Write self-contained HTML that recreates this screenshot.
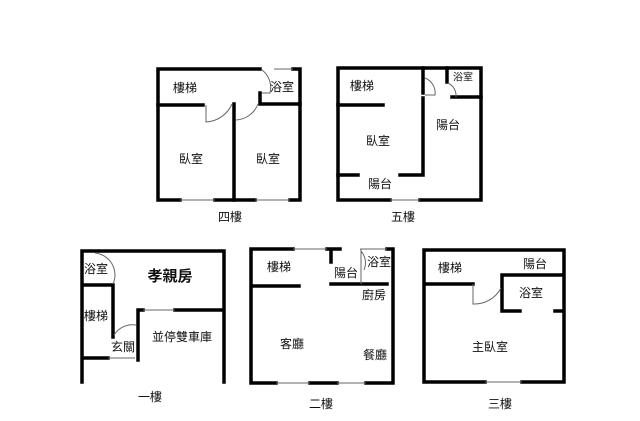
<!DOCTYPE html>
<html><head><meta charset="utf-8"><style>
body{margin:0;background:#fff;width:640px;height:421px;overflow:hidden}
svg{display:block}
text{font-family:"Liberation Sans","Noto Sans CJK TC",sans-serif;font-size:12px;fill:#111;text-anchor:middle;dominant-baseline:middle}
.w{stroke:#000;stroke-width:3.5;fill:none;stroke-linecap:square}
.t{stroke:#666;stroke-width:1;fill:none}
.d{stroke:#666;stroke-width:1;fill:none}
</style></head><body>
<svg width="640" height="421" viewBox="0 0 640 421">
<!-- Floor 4 -->
<path class="w" d="M260 69 H158 V200 H180 M215 200 H255 M290 200 H300 V69 H293"/>
<path class="t" d="M274 69 H293 M180 200 H215 M255 200 H290"/>
<path class="w" d="M158 105 H203 M234 104 V200 M260 93 V104 H300"/>
<path class="d" d="M206 105 V122 A30 30 0 0 0 232 104 M236 120 A25 25 0 0 0 258 104 M262 70 A22 22 0 0 1 270 93 H262"/>
<text x="185" y="89">樓梯</text><text x="282" y="88">浴室</text>
<text x="191" y="160">臥室</text><text x="268" y="160">臥室</text>
<text x="230" y="218">四樓</text>
<!-- Floor 5 -->
<path class="w" d="M338 68 H481 V200 H420 M390 200 H338 V68"/>
<path class="t" d="M390 200 H420"/>
<path class="w" d="M423 68 V93 M423 98 V175 H400 M338 175 H358 M338 105 H383 M447 68 V82 M452 97 H481"/>
<path class="d" d="M425 78 A16 16 0 0 1 435 95 H425 M448 83 A14 14 0 0 1 456 97"/>
<text x="362" y="87">樓梯</text><text x="463" y="78" style="font-size:10px">浴室</text>
<text x="448" y="126">陽台</text><text x="378" y="142">臥室</text><text x="380" y="185">陽台</text>
<text x="403" y="218">五樓</text>
<!-- Floor 1 -->
<path class="w" d="M82 382 V251 H224 V382 M82 285 H113 V337 M138 310 H143 M175 310 H224 M138 310 V360 M82 358 H108"/>
<path class="t" d="M143 310 H175 M108 358 H135 M95 253 A22 22 0 0 1 113 284"/>
<path class="d" d="M114 335 A22 22 0 0 1 136 325"/>
<text x="96" y="270">浴室</text><text x="170" y="277" style="font-size:15px;font-weight:bold">孝親房</text>
<text x="96" y="317">樓梯</text><text x="123" y="348">玄關</text>
<text x="182" y="338">並停雙車庫</text><text x="150" y="398">一樓</text>
<!-- Floor 2 -->
<path class="w" d="M293 249 H251 V383 H276 M310 383 H337 M366 383 H393 V249 H387 M327 249 H340 M251 286 H299 M331 249 V262 M331 284 H387"/>
<path class="t" d="M293 249 H327 M360 249 H387 M276 383 H310 M337 383 H366 M361 249 V284 M361 251 A18 18 0 0 1 364 270"/>
<text x="279" y="268">樓梯</text><text x="346" y="274">陽台</text><text x="379" y="263">浴室</text>
<text x="374" y="296">廚房</text><text x="292" y="345">客廳</text><text x="375" y="356">餐廳</text>
<text x="321" y="405">二樓</text>
<!-- Floor 3 -->
<path class="w" d="M424 250 H564 V382 H522 M485 382 H424 V250 M424 284 H473 M502 275 V311 H520 M502 275 H564 M555 311 H564"/>
<path class="t" d="M485 382 H522"/>
<path class="d" d="M473 284 V304 A30 30 0 0 0 501 288"/>
<text x="450" y="269">樓梯</text><text x="535" y="265">陽台</text><text x="531" y="294">浴室</text>
<text x="490" y="348">主臥室</text><text x="500" y="405">三樓</text>
</svg>
</body></html>
